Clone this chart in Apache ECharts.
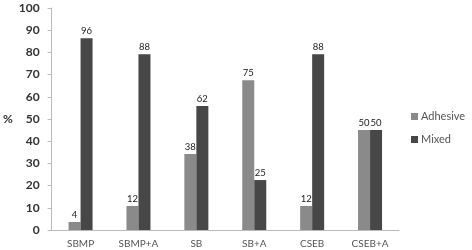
<!DOCTYPE html>
<html><head><meta charset="utf-8">
<script src="https://cdn.jsdelivr.net/npm/echarts@6/dist/echarts.min.js"></script>
<style>html,body{margin:0;padding:0;background:#fff}#c{width:472px;height:250px}</style>
</head><body><div id="c"></div>
<script>
const categories = ["SBMP", "SBMP+A", "SB", "SB+A", "CSEB", "CSEB+A"];
const adhesive = [4, 12, 38, 75, 12, 50];
const mixed = [96, 88, 62, 25, 88, 50];
const tickLabels = [0, 10, 20, 30, 40, 50, 60, 70, 80, 90, 100];
// The original chart draws bars at ~0.9 of the labelled value relative to its axis
const axisRatio = 0.9;
const font = "Lato, 'Open Sans', sans-serif";
const chart = echarts.init(document.getElementById('c'));
const step = 10 / axisRatio;
chart.setOption({
  animation: false,
  textStyle: {fontFamily: font},
  grid: {left: 50, right: 73, top: 8, bottom: 20, containLabel: false},
  legend: {
    orient: 'vertical', left: 406, top: 106, itemWidth: 7, itemHeight: 7, itemGap: 12,
    icon: 'rect',
    textStyle: {fontFamily: font, fontSize: 11, color: '#555', padding: [0,0,0,-2]},
    data: ['Adhesive', 'Mixed']
  },
  xAxis: {
    type: 'category', data: categories,
    axisLine: {lineStyle: {color: '#bbb'}},
    axisTick: {show: false},
    axisLabel: {fontFamily: font, fontSize: 10, color: '#555', margin: 9}
  },
  yAxis: {
    type: 'value', min: 0, max: step * (tickLabels.length - 1), interval: step,
    name: '%', nameLocation: 'middle', nameRotate: 0, nameGap: 38,
    nameTextStyle: {fontFamily: font, fontSize: 12, fontWeight: 'bold', color: '#333'},
    axisLine: {show: true, lineStyle: {color: '#bbb'}},
    axisTick: {show: true, length: 4, inside: false, lineStyle: {color: '#bbb'}},
    splitLine: {show: false},
    axisLabel: {fontFamily: font, fontSize: 12, fontWeight: 'bold', color: '#333', margin: 12,
      formatter: v => String(tickLabels[Math.round(v / step)])}
  },
  series: [
    {name: 'Adhesive', type: 'bar', data: adhesive, barWidth: 12, barGap: '0%',
     itemStyle: {color: '#8a8a8a'},
     label: {show: true, position: 'top', distance: 2, fontFamily: font, fontSize: 9.5, color: '#222'}},
    {name: 'Mixed', type: 'bar', data: mixed, barWidth: 12,
     itemStyle: {color: '#474747'},
     label: {show: true, position: 'top', distance: 2, fontFamily: font, fontSize: 9.5, color: '#222'}}
  ]
});
</script></body></html>
